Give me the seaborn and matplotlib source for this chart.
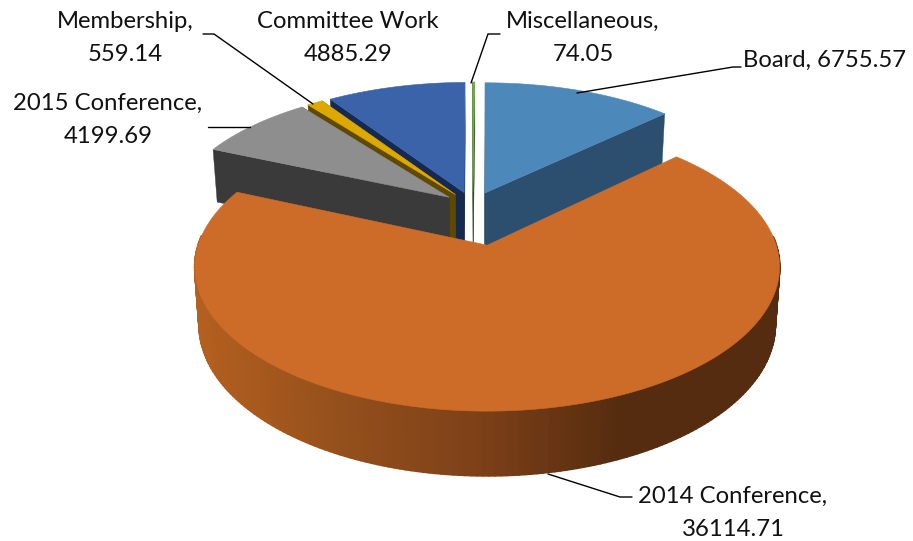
import numpy as np
import matplotlib
matplotlib.use("Agg")
import matplotlib.pyplot as plt
import seaborn as sns
from matplotlib.collections import PolyCollection

categories = ["Board", "2014 Conference", "2015 Conference", "Membership", "Committee Work", "Miscellaneous"]
values = [6755.57, 36114.71, 4199.69, 559.14, 4885.29, 74.05]
label_texts = ["Board, 6755.57", "2014 Conference,\n36114.71", "2015 Conference,\n4199.69",
               "Membership,\n559.14", "Committee Work\n4885.29", "Miscellaneous,\n74.05"]
explode = [0.11, 0.295, 0.11, 0.11, 0.11, 0.11]
top_colors = ["#4d88bb", "#cd6b28", "#8e8e8e", "#dda800", "#3a63aa", "#70ad47"]
wall_colors = ["#2d4f6f", "#7a3f17", "#3a3a3a", "#5f4800", "#16294f", "#2f4a1e"]

sns.set_theme(style="white")
plt.rcParams["font.family"] = ["Lato", "DejaVu Sans"]

W, H = 913, 541
fig, ax = plt.subplots(figsize=(W / 100, H / 100), dpi=100)
fig.subplots_adjust(0, 0, 1, 1)

wedges, _ = ax.pie(values, explode=explode, startangle=90, counterclock=False,
                   center=(-0.053, 0.289), radius=1.0)
geom = [(w.center, w.theta1, w.theta2, w.r) for w in wedges]
for w in wedges:
    w.remove()
ax.set_aspect("auto")
ax.set_xlim(0, W)
ax.set_ylim(H, 0)
ax.axis("off")

# tilted-camera projection of the pie plane into the figure
X0, Y0, RX, RY, P, DEPTH, SHRINK = 487.5, 245, 289, 141, 0.15, 57, 0.985


def project(x, y, bottom=False):
    w = 1 + P * y
    sx = RX * x / w
    sy = -RY * y / w
    if bottom:
        return np.column_stack([X0 + sx * SHRINK, Y0 + sy * SHRINK + DEPTH / w])
    return np.column_stack([X0 + sx, Y0 + sy])


orange_ramp = sns.blend_palette(["#b5601f", "#95501c", "#7d4018", "#552c0f"], 101)


def wall_quad(xa, ya, xb, yb):
    t = project(np.array([xa, xb]), np.array([ya, yb]))
    b = project(np.array([xb, xa]), np.array([yb, ya]), bottom=True)
    return np.vstack([t, b])


def draw_slice(i):
    (cx, cy), t1, t2, r = geom[i]
    a = np.radians(np.linspace(t1, t2, 240))
    xs, ys = cx + r * np.cos(a), cy + r * np.sin(a)
    if i != 1:
        radial = [wall_quad(cx, cy, px, py) for px, py in ((xs[0], ys[0]), (xs[-1], ys[-1]))]
        ax.add_collection(PolyCollection(radial, facecolors=wall_colors[i],
                                         edgecolors=wall_colors[i], linewidths=0.3))
    else:
        quads, cols = [], []
        for k in range(len(a) - 1):
            if np.sin(a[k]) > 0.05 and np.sin(a[k + 1]) > 0.05:
                continue
            q = wall_quad(xs[k], ys[k], xs[k + 1], ys[k + 1])
            quads.append(q)
            frac = np.clip((q[:, 0].mean() - 194) / 426, 0, 1)
            cols.append(orange_ramp[int(frac * 100)])
        ax.add_collection(PolyCollection(quads, facecolors=cols, edgecolors=cols, linewidths=1.4))
    top = project(np.r_[cx, xs], np.r_[cy, ys])
    ax.fill(top[:, 0], top[:, 1], color=top_colors[i], lw=0.4)


for i in [4, 3, 2, 5, 0, 1]:
    draw_slice(i)

leaders = [
    ([741, 733, 577], [67, 67, 93]),
    ([548, 620, 632], [474, 497, 497]),
    ([208, 250], [127, 127]),
    ([203, 214, 313], [34, 34, 104]),
    ([500, 488, 471], [34, 34, 83]),
]
for lx, ly in leaders:
    ax.plot(lx, ly, color="black", lw=1.0, solid_joinstyle="miter")

label_pos = [(825, 60), (733, 513), (108, 120), (125, 38), (348, 38), (583, 38)]
for txt, (x, y) in zip(label_texts, label_pos):
    ax.text(x, y, txt, ha="center", va="center", fontsize=17.2, color="#111111",
            linespacing=1.68, multialignment="center")

fig.savefig("out.png", dpi=100, facecolor="white")
